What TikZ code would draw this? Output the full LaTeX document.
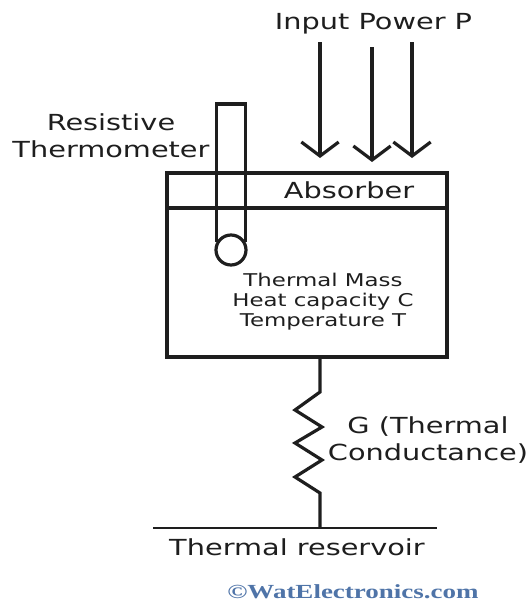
\documentclass[tikz,border=0pt]{standalone}
\usepackage{fontspec}
\setmainfont[FakeStretch=1.3]{DejaVu Sans}
\newfontfamily\markfont[FakeStretch=1.35]{Liberation Serif}
\usetikzlibrary{arrows.meta,positioning,calc}
\definecolor{cInk}{HTML}{1E1E1E}
\definecolor{cMark}{HTML}{4F74A8}
\tikzset{
  >={Straight Barb[length=10.5pt,width=28pt,line width=2.4pt]},
  hbox/.style ={draw=cInk,line width=2.4pt,minimum width=210pt,inner sep=0pt,outer sep=0pt},
  lbl/.style  ={font=\fontsize{16.6}{20}\selectfont,text=cInk,align=center,inner sep=0pt},
  sml/.style  ={font=\fontsize{13.2}{15}\selectfont,text=cInk,align=center,inner sep=0pt},
  ar/.style   ={->,line width=2.4pt,cInk},
  ln/.style   ={line width=2.4pt,cInk},
}
\begin{document}
\begin{tikzpicture}[x=0.75pt,y=-0.75pt]
\useasboundingbox (0,0) rectangle (530,603);
% main blocks
\node[hbox,minimum height=26.25pt] (absb) at (307,190.5) {};
\node[hbox,minimum height=111.75pt,below=0pt of absb] (mass) {};
\node[lbl] (abst) at (349,190) {Absorber};
\node[sml] (masst) at (323,302) {Thermal Mass\\Heat capacity C\\Temperature T};
% thermometer
\node[draw=cInk,circle,line width=2.4pt,minimum size=22.5pt,inner sep=0pt] (bulb) at (231,250) {};
\coordinate (tl) at (218,104);
\coordinate (tr) at (247,104);
\draw[ln] (bulb.150) -- (bulb.150 |- tl) -- (bulb.30 |- tl) -- (bulb.30);
\node[lbl] (thermo) at (111,136) {Resistive\\Thermometer};
% input power
\node[lbl] (powr) at (373.5,24) {Input Power P};
\coordinate (a1) at (320,42);
\coordinate (a2) at (372,47);
\coordinate (a3) at (412,42);
\coordinate (b1) at (320,158);
\coordinate (b2) at (372,162);
\coordinate (b3) at (412,158);
\draw[ar] (a1)--(b1);
\draw[ar] (a2)--(b2);
\draw[ar] (a3)--(b3);
% conductance
\node[lbl] (cond) at (428,440) {G (Thermal\\Conductance)};
\coordinate (res) at (320,528);
\draw[ln] (mass.south -| res) -- (320,392) -- (295,410) -- (322,427) -- (295,443) -- (322,460) -- (295,477) -- (320,493) -- (res);
\coordinate (rl) at (153,528);
\coordinate (rr) at (437,528);
\draw[line width=1.8pt,cInk] (rl) -- (rr);
\node[lbl] (rest) at (297,547) {Thermal reservoir};
\node[text=cMark,inner sep=0pt,font=\markfont\bfseries\fontsize{15}{17}\selectfont] (wmark) at (353,592) {©WatElectronics.com};
\end{tikzpicture}
\end{document}
